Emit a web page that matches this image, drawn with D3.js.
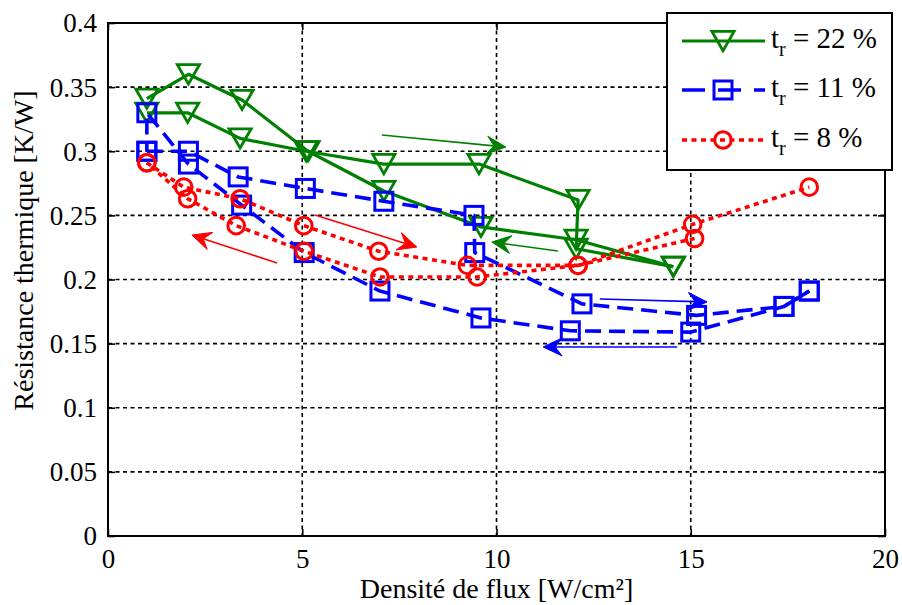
<!DOCTYPE html>
<html><head><meta charset="utf-8">
<script src="https://cdn.jsdelivr.net/npm/d3@7"></script>
<style>
html,body{margin:0;padding:0;background:#fff;}
</style></head>
<body><svg id="c" width="902" height="605"></svg>
<script>
// ---- data ----
const xTicks = [0, 5, 10, 15, 20];
const yTicks = [0, 0.05, 0.1, 0.15, 0.2, 0.25, 0.3, 0.35, 0.4];
const yTickLabels = ["0", "0.05", "0.1", "0.15", "0.2", "0.25", "0.3", "0.35", "0.4"];
const seriesNames = ["22 %", "11 %", "8 %"];

// t_r = 22 % (green)
const g_up_x = [1.0, 2.05, 3.4, 5.1, 7.1, 9.55, 12.1, 12.05, 14.55];
const g_up_y = [0.33, 0.33, 0.31, 0.30, 0.29, 0.29, 0.262, 0.224, 0.21];
const g_dn_x = [14.55, 12.05, 9.6, 7.1, 5.15, 3.45, 2.07, 1.0];
const g_dn_y = [0.21, 0.231, 0.241, 0.269, 0.30, 0.34, 0.36, 0.341];
// t_r = 11 % (blue)
const b_up_x = [1.0, 2.07, 3.35, 5.08, 7.1, 9.42, 9.44, 12.2, 15.15, 17.4, 18.05];
const b_up_y = [0.30, 0.30, 0.28, 0.271, 0.261, 0.25, 0.221, 0.181, 0.172, 0.179, 0.191];
const b_dn_x = [18.05, 17.4, 15.0, 11.9, 9.6, 7.0, 5.05, 3.44, 2.07, 1.0, 1.0];
const b_dn_y = [0.191, 0.179, 0.159, 0.16, 0.17, 0.191, 0.221, 0.258, 0.29, 0.33, 0.30];
// t_r = 8 % (red)
const r_up_x = [1.0, 1.95, 3.4, 5.04, 6.97, 9.25, 12.1, 15.05, 18.05];
const r_up_y = [0.291, 0.272, 0.263, 0.242, 0.222, 0.211, 0.211, 0.243, 0.272];
const r_dn_x = [15.1, 12.1, 9.5, 7.0, 5.05, 3.3, 2.05, 1.0];
const r_dn_y = [0.232, 0.211, 0.202, 0.202, 0.222, 0.242, 0.263, 0.291];

// arrows [x1, y1, x2, y2] in data units
const arrowsGreen = [[7.05, 0.3127, 10.24, 0.3033], [11.58, 0.2222, 9.88, 0.2292]];
const arrowsBlue  = [[12.66, 0.1848, 15.42, 0.1825], [14.65, 0.1474, 11.2, 0.1474]];
const arrowsRed   = [[5.33, 0.2503, 7.95, 0.2253], [4.35, 0.2129, 2.16, 0.2347]];

// ---- layout ----
const FONT = "'Liberation Serif', 'Times New Roman', serif";
const L = 108, R = 885, T = 23, B = 536;
const svg = d3.select("#c");
const x = d3.scaleLinear().domain([0, 20]).range([L, R]);
const y = d3.scaleLinear().domain([0, 0.4]).range([B, T]);

const GREEN = "#008000", BLUE = "#0000ff", RED = "#ff0000";

// grid
const grid = svg.append("g");
xTicks.filter(v => v > 0 && v < 20).forEach(v => {
  grid.append("line").attr("x1", x(v)).attr("x2", x(v)).attr("y1", T).attr("y2", B)
    .attr("stroke", "#000").attr("stroke-width", 1.6).attr("stroke-dasharray", "4,3.5");
});
yTicks.filter(v => v > 0 && v < 0.4).forEach(v => {
  grid.append("line").attr("x1", L).attr("x2", R).attr("y1", y(v)).attr("y2", y(v))
    .attr("stroke", "#000").attr("stroke-width", 1.6).attr("stroke-dasharray", "4,3.5");
});

// axes
const xAxis = d3.axisBottom(x).tickValues(xTicks).tickFormat(d3.format("d")).tickSizeInner(-7).tickSizeOuter(0).tickPadding(13);
const yAxis = d3.axisLeft(y).tickValues(yTicks).tickFormat((d, i) => yTickLabels[i]).tickSizeInner(-7).tickSizeOuter(0).tickPadding(11);
const gx = svg.append("g").attr("transform", `translate(0,${B})`).call(xAxis);
const gy = svg.append("g").attr("transform", `translate(${L},0)`).call(yAxis);
[gx, gy].forEach(g => {
  g.attr("font-family", null).attr("font-size", null);
  g.select(".domain").remove();
  g.selectAll("line").attr("stroke", "#000").attr("stroke-width", 1.6);
  g.selectAll("text").style("font-family", FONT).style("font-size", "27px").attr("fill", "#000");
});
gx.selectAll("text").attr("dy", "0.71em");
gy.selectAll("text").attr("dy", "0.33em");
// top/right ticks
svg.append("g").attr("transform", `translate(0,${T})`).call(d3.axisTop(x).tickValues(xTicks).tickSizeInner(-7).tickSizeOuter(0).tickFormat(""))
  .call(g => { g.select(".domain").remove(); g.selectAll("line").attr("stroke", "#000").attr("stroke-width", 1.6); });
svg.append("g").attr("transform", `translate(${R},0)`).call(d3.axisRight(y).tickValues(yTicks).tickSizeInner(-7).tickSizeOuter(0).tickFormat(""))
  .call(g => { g.select(".domain").remove(); g.selectAll("line").attr("stroke", "#000").attr("stroke-width", 1.6); });

// frame
svg.append("rect").attr("x", L).attr("y", T).attr("width", R - L).attr("height", B - T)
  .attr("fill", "none").attr("stroke", "#000").attr("stroke-width", 2);

// axis labels
svg.append("text").attr("x", (L + R) / 2).attr("y", 598).attr("text-anchor", "middle")
  .style("font-family", FONT).style("font-size", "28px").text("Densité de flux [W/cm²]");
svg.append("text").attr("transform", `translate(33,${(T + B) / 2 - 29}) rotate(-90)`).attr("text-anchor", "middle")
  .style("font-family", FONT).style("font-size", "28px").text("Résistance thermique [K/W]");

// markers
function triPath(s) { const w = s * 0.6, h = s * 0.52; return `M${-w},${-h}L${w},${-h}L0,${h}Z`; }
function drawMarker(g, kind, cx, cy, color) {
  if (kind === "tri") {
    g.append("path").attr("d", triPath(18.5)).attr("transform", `translate(${cx},${cy})`)
      .attr("fill", "none").attr("stroke", color).attr("stroke-width", 2.8).attr("stroke-linejoin", "miter");
  } else if (kind === "sq") {
    g.append("rect").attr("x", cx - 9).attr("y", cy - 9).attr("width", 18).attr("height", 18)
      .attr("fill", "none").attr("stroke", color).attr("stroke-width", 3);
  } else {
    g.append("circle").attr("cx", cx).attr("cy", cy).attr("r", 8.3)
      .attr("fill", "none").attr("stroke", color).attr("stroke-width", 3);
  }
}

const line = d3.line().x(d => x(d[0])).y(d => y(d[1]));
const series = [
  {color: GREEN, kind: "tri", dash: null, w: 3.2, parts: [[g_up_x, g_up_y], [g_dn_x, g_dn_y]]},
  {color: BLUE, kind: "sq", dash: "16,8", w: 3.6, parts: [[b_up_x, b_up_y], [b_dn_x, b_dn_y]]},
  {color: RED, kind: "circ", dash: "5,4.5", w: 3.6, parts: [[r_up_x, r_up_y], [r_dn_x, r_dn_y]]}
];
series.forEach(s => {
  const g = svg.append("g");
  s.parts.forEach(([xs, ys]) => {
    const pts = xs.map((v, i) => [v, ys[i]]);
    g.append("path").attr("d", line(pts)).attr("fill", "none").attr("stroke", s.color)
      .attr("stroke-width", s.w).attr("stroke-dasharray", s.dash).attr("stroke-linejoin", "round");
  });
  s.parts.forEach(([xs, ys]) => {
    xs.forEach((v, i) => drawMarker(g, s.kind, x(v), y(ys[i]), s.color));
  });
});

// arrows
function drawArrow(a, color) {
  const x1 = x(a[0]), y1 = y(a[1]), x2 = x(a[2]), y2 = y(a[3]);
  const ang = Math.atan2(y2 - y1, x2 - x1);
  const Lh = 19, W = 9, notch = 7;
  const c = Math.cos(ang), s = Math.sin(ang);
  const pt = (u, v) => [x2 + u * c - v * s, y2 + u * s + v * c];
  const p1 = pt(-Lh, W), p2 = pt(-Lh + notch, 0), p3 = pt(-Lh, -W);
  svg.append("line").attr("x1", x1).attr("y1", y1).attr("x2", p2[0]).attr("y2", p2[1])
    .attr("stroke", color).attr("stroke-width", 1.6);
  svg.append("path").attr("d", `M${x2},${y2}L${p1[0]},${p1[1]}L${p2[0]},${p2[1]}L${p3[0]},${p3[1]}Z`)
    .attr("fill", color).attr("stroke", color).attr("stroke-width", 1);
}
arrowsGreen.forEach(a => drawArrow(a, GREEN));
arrowsBlue.forEach(a => drawArrow(a, BLUE));
arrowsRed.forEach(a => drawArrow(a, RED));

// legend
const lg = svg.append("g");
lg.append("rect").attr("x", 667).attr("y", 13).attr("width", 225).attr("height", 157)
  .attr("fill", "#fff").attr("stroke", "#000").attr("stroke-width", 2);
const rowsY = [41, 90, 140];
series.forEach((s, i) => {
  const yy = rowsY[i];
  lg.append("line").attr("x1", 682).attr("x2", 765).attr("y1", yy).attr("y2", yy)
    .attr("stroke", s.color).attr("stroke-width", s.w).attr("stroke-dasharray", s.kind === "sq" ? "23,13" : s.dash);
  drawMarker(lg, s.kind, 723, yy, s.color);
  const t = lg.append("text").attr("x", 771).attr("y", yy + 7).style("font-family", FONT).style("font-size", "29px");
  t.append("tspan").text("t");
  t.append("tspan").style("font-size", "20px").attr("dy", 8).text("r");
  t.append("tspan").attr("dy", -8).text(" = " + seriesNames[i]);
});
</script></body></html>
